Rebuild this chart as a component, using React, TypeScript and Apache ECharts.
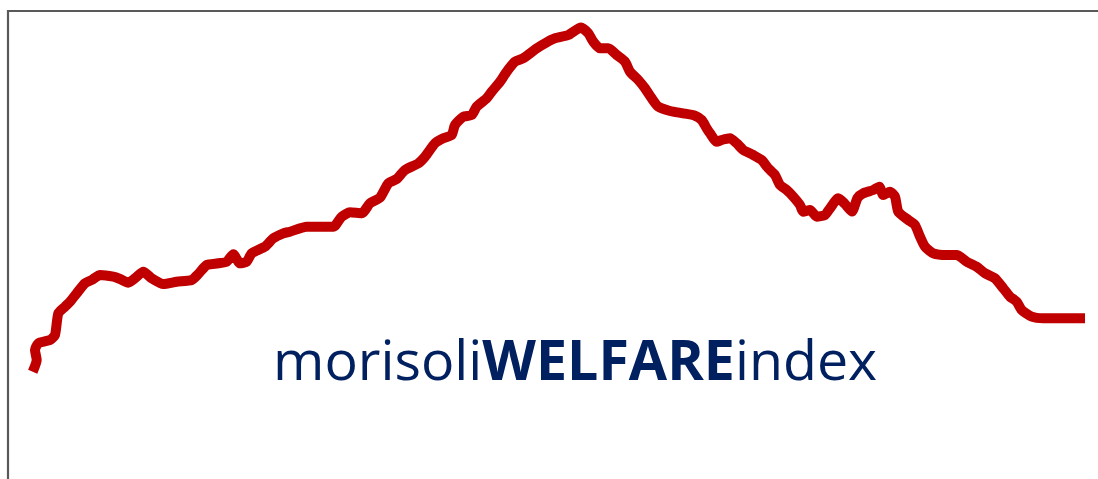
import React, { useEffect, useRef } from "react";
import * as echarts from "echarts";

// Horizontal position (period) and welfare index level
const periods: number[] = [
  32.7, 36.7, 35, 38.3, 50, 55, 58.3, 65, 70, 76.7, 85, 91.7, 100, 113.3, 120, 128.3, 135, 143.3, 151.7, 163.3,
  176.7, 191.7, 198.3, 206.7, 218.3, 226.7, 233.3, 240, 246.7, 251.7, 265, 273.3, 283.3, 290, 306.7, 333.3,
  341.7, 350, 361.7, 370, 380, 388.3, 396.7, 405, 418.3, 425, 435, 443.3, 451.7, 455, 463.3, 471.7, 476.7,
  486.7, 491.7, 500, 506.7, 515, 523.3, 536.7, 546.7, 555, 568.3, 581, 588.3, 593.3, 600, 608.3, 616.7, 625,
  630, 638.3, 645, 651.7, 658.3, 670, 683.3, 695, 701.7, 706.7, 710, 716.7, 721.7, 730, 736.7, 743.3, 753.3,
  761.7, 768.3, 775, 780, 786.7, 793.3, 800, 803.3, 810, 816.7, 825, 830, 838.3, 845, 852, 857.5, 863.3, 873.3,
  879.3, 883.3, 890, 895, 898.3, 908.3, 915, 920, 925, 933.3, 946.7, 956.7, 966.7, 976.7, 985, 995, 1003.3,
  1010, 1016.7, 1021.7, 1031.7, 1043.3, 1066.7, 1085,
];
const indexValues: number[] = [
  107.3, 119, 129, 135.7, 139, 144, 165.7, 172.3, 177.3, 185.7, 195.7, 199, 204, 202.3, 200, 196.3, 200.7, 207.3,
  200.7, 195, 197.3, 199, 205, 214, 215.7, 217.3, 224.7, 215.7, 217.3, 225.7, 232.3, 240.7, 245.7, 247.3, 252.3,
  252.3, 262.3, 266.7, 265.7, 275.7, 281.3, 295.7, 300, 309, 315.7, 322.3, 335.7, 340.7, 344, 354, 362.3, 364,
  372.3, 380.7, 387.3, 397.3, 407.3, 417.3, 420.7, 430.7, 436.7, 440.7, 444, 451.5, 445.7, 437.3, 430.7, 430.7,
  424, 417.3, 407.3, 399, 390.7, 380.7, 372.3, 368, 365.7, 363.3, 359, 350.7, 345.7, 337.3, 339, 340.7, 335.7,
  329, 324, 319, 310.7, 304, 294, 289, 282.3, 274, 267.3, 269, 262.3, 264, 270.7, 280.7, 275, 267.5, 281, 285.7,
  289, 292.3, 284, 287.3, 282.3, 267.3, 259, 254, 242.3, 232.3, 225.7, 224, 224, 217.3, 212.3, 205.7, 200.7,
  190.7, 182.3, 177.3, 169, 162.3, 160.7, 160.7, 160.7,
];

const titleParts: string[] = ["morisoli", "WELFARE", "index"];

export default function App() {
  const ref = useRef<HTMLDivElement>(null);

  useEffect(() => {
    if (!ref.current) return;
    const chart = echarts.init(ref.current, null, { renderer: "svg" });
    const data = periods.map((p, i) => [p, indexValues[i]]);
    chart.setOption({
      animation: false,
      backgroundColor: "#ffffff",
      grid: { left: 0, right: 0, top: 0, bottom: 0 },
      xAxis: { type: "value", min: 0, max: 1098, show: false },
      yAxis: { type: "value", min: 0, max: 479, show: false },
      title: {
        text: `{a|${titleParts[0]}}{b|${titleParts[1]}}{a|${titleParts[2]}}`,
        left: 273,
        top: 330,
        padding: 0,
        textStyle: {
          rich: {
            a: { fontFamily: "Open Sans", fontSize: 55.5, fontWeight: "normal", color: "#002060" },
            b: { fontFamily: "Open Sans", fontSize: 55.5, fontWeight: "bold", color: "#002060" },
          },
        },
      },
      graphic: [
        { type: "line", shape: { x1: 7, y1: 11, x2: 1098, y2: 11 }, style: { stroke: "#595959", lineWidth: 2.2 } },
        { type: "line", shape: { x1: 8, y1: 10, x2: 8, y2: 479 }, style: { stroke: "#595959", lineWidth: 2.2 } },
      ],
      series: [
        {
          type: "line",
          data,
          showSymbol: false,
          smooth: 0.2,
          lineStyle: { color: "#C00000", width: 10, cap: "butt", join: "round" },
        },
      ],
    });
    return () => chart.dispose();
  }, []);

  return (
    <div
      ref={ref}
      style={{ position: "fixed", left: 0, top: 0, width: 1098, height: 479 }}
    />
  );
}
